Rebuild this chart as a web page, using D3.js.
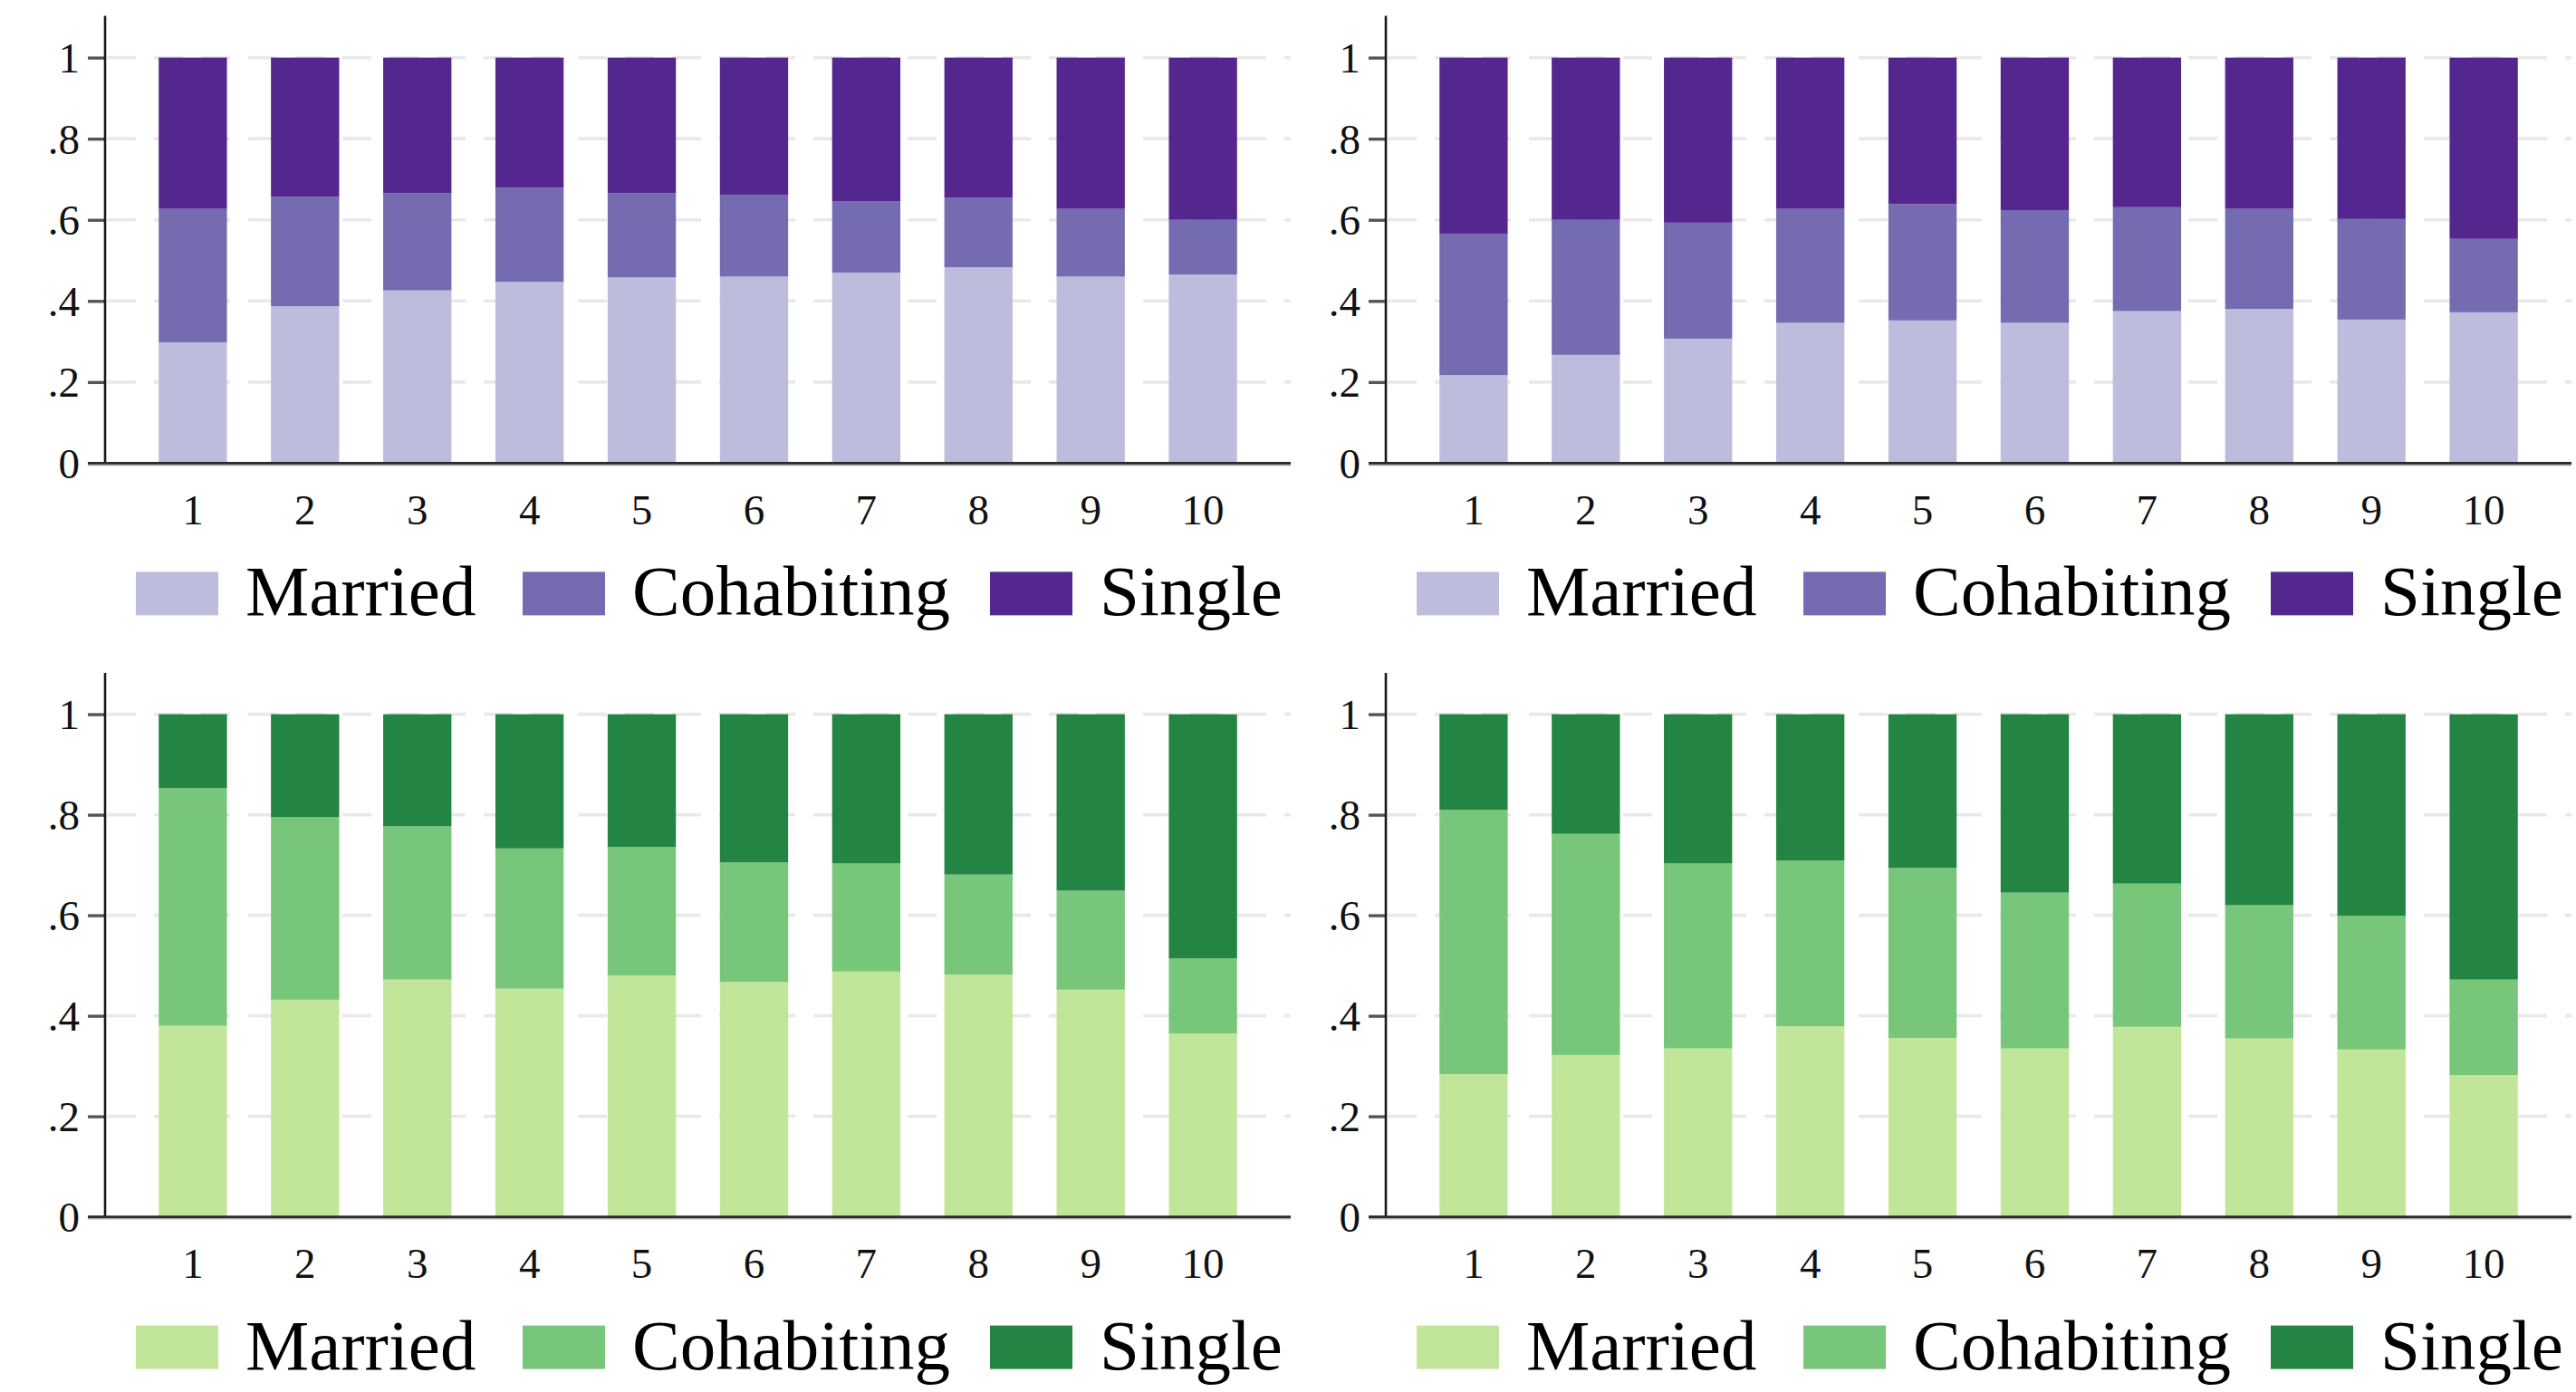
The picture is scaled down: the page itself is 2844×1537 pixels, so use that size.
<!DOCTYPE html>
<html>
<head>
<meta charset="utf-8">
<script src="https://cdn.jsdelivr.net/npm/d3@7"></script>
<style>
  body { margin: 0; background: #fff; }
  svg { display: block; }
  svg text { font-family: "Liberation Serif", "Times New Roman", serif; }
</style>
</head>
<body>
<svg id="chart" width="2844" height="1537"></svg>
<script>
// Groups along the x axis
const groups = ["1", "2", "3", "4", "5", "6", "7", "8", "9", "10"];
const statuses = ["Married", "Cohabiting", "Single"];
const yTicks = [0, 0.2, 0.4, 0.6, 0.8, 1];
const yTickLabels = ["0", ".2", ".4", ".6", ".8", "1"];

// Shares by status, top-left panel
const tlMarried    = [0.298, 0.387, 0.426, 0.447, 0.458, 0.460, 0.470, 0.483, 0.460, 0.465];
const tlCohabiting = [0.329, 0.270, 0.240, 0.232, 0.208, 0.202, 0.175, 0.172, 0.167, 0.135];
const tlSingle     = [0.373, 0.343, 0.334, 0.321, 0.334, 0.338, 0.355, 0.345, 0.373, 0.400];

// Shares by status, top-right panel
const trMarried    = [0.217, 0.267, 0.307, 0.346, 0.352, 0.346, 0.375, 0.380, 0.354, 0.372];
const trCohabiting = [0.348, 0.333, 0.286, 0.281, 0.287, 0.278, 0.256, 0.247, 0.248, 0.181];
const trSingle     = [0.435, 0.400, 0.407, 0.373, 0.361, 0.376, 0.369, 0.373, 0.398, 0.447];

// Shares by status, bottom-left panel
const blMarried    = [0.380, 0.432, 0.472, 0.454, 0.480, 0.467, 0.488, 0.482, 0.452, 0.365];
const blCohabiting = [0.473, 0.363, 0.305, 0.279, 0.256, 0.238, 0.215, 0.199, 0.197, 0.149];
const blSingle     = [0.147, 0.205, 0.223, 0.267, 0.264, 0.295, 0.297, 0.319, 0.351, 0.486];

// Shares by status, bottom-right panel
const brMarried    = [0.284, 0.322, 0.335, 0.379, 0.356, 0.335, 0.378, 0.355, 0.333, 0.282];
const brCohabiting = [0.526, 0.440, 0.368, 0.330, 0.338, 0.310, 0.285, 0.265, 0.266, 0.190];
const brSingle     = [0.190, 0.238, 0.297, 0.291, 0.306, 0.355, 0.337, 0.380, 0.401, 0.528];

const purples = ["#bcbddc", "#756bb1", "#54278f"];
const greens  = ["#c2e699", "#78c679", "#238443"];

const panels = [
  { x: 0,    row: 0, colors: purples, series: [tlMarried, tlCohabiting, tlSingle] },
  { x: 1414, row: 0, colors: purples, series: [trMarried, trCohabiting, trSingle] },
  { x: 0,    row: 1, colors: greens,  series: [blMarried, blCohabiting, blSingle] },
  { x: 1414, row: 1, colors: greens,  series: [brMarried, brCohabiting, brSingle] }
];

// Vertical geometry of each row: baseline, value-1 line, top of axis
const rows = [
  { y0: 511.4,  y1: 63.6,  top: 17.5 },
  { y0: 1343.6, y1: 788.6, top: 743 }
];

const FONT = '"Liberation Serif", "Times New Roman", serif';
const axisLeft = 116, axisRight = 1425;

const svg = d3.select("#chart");

panels.forEach(p => {
  const r = rows[p.row];
  const g = svg.append("g").attr("transform", `translate(${p.x},0)`);

  const x = d3.scaleBand()
    .domain(groups)
    .range([axisLeft, axisRight])
    .paddingInner(0.392)
    .paddingOuter(0.478);

  const y = d3.scaleLinear().domain([0, 1]).range([r.y0, r.y1]);

  const table = groups.map((grp, i) => {
    const row = { group: grp };
    statuses.forEach((s, k) => { row[s] = p.series[k][i]; });
    return row;
  });
  const stacked = d3.stack().keys(statuses)(table);

  // dashed horizontal grid
  g.append("g").selectAll("line")
    .data(yTicks.filter(v => v > 0))
    .join("line")
    .attr("x1", axisLeft + 2).attr("x2", axisRight)
    .attr("y1", d => y(d)).attr("y2", d => y(d))
    .attr("stroke", "#e9e9e9")
    .attr("stroke-width", 3.6)
    .attr("stroke-dasharray", "32 20");

  // stacked bars
  g.append("g").selectAll("g")
    .data(stacked)
    .join("g")
    .attr("fill", (d, k) => p.colors[k])
    .selectAll("rect")
    .data(d => d)
    .join("rect")
    .attr("x", d => x(d.data.group))
    .attr("width", x.bandwidth())
    .attr("y", d => y(d[1]))
    .attr("height", d => y(d[0]) - y(d[1]));

  // y axis
  const yAxis = d3.axisLeft(y)
    .tickValues(yTicks)
    .tickFormat((d, i) => yTickLabels[i])
    .tickSize(19)
    .tickPadding(9);
  const ya = g.append("g").attr("transform", `translate(${axisLeft},0)`).call(yAxis);
  ya.attr("font-family", null).attr("font-size", null);
  ya.select(".domain").remove();
  ya.selectAll(".tick line").attr("stroke", "#555").attr("stroke-width", 3.4);
  ya.selectAll(".tick text")
    .style("font-family", FONT).style("font-size", "47px").attr("fill", "#111")
    .attr("dy", "0.34em");
  g.append("line")
    .attr("x1", axisLeft).attr("x2", axisLeft)
    .attr("y1", r.top).attr("y2", r.y0)
    .attr("stroke", "#1a1a1a").attr("stroke-width", 2.6);

  // x axis
  const xAxis = d3.axisBottom(x).tickSize(0).tickPadding(34);
  const xa = g.append("g").attr("transform", `translate(0,${r.y0})`).call(xAxis);
  xa.attr("font-family", null).attr("font-size", null);
  xa.select(".domain").remove();
  xa.selectAll(".tick text")
    .style("font-family", FONT).style("font-size", "47px").attr("fill", "#111");
  g.append("line")
    .attr("x1", axisLeft - 19).attr("x2", axisRight)
    .attr("y1", r.y0 + 1.5).attr("y2", r.y0 + 1.5)
    .attr("stroke", "#b0b0b0").attr("stroke-width", 3);
  g.append("line")
    .attr("x1", axisLeft - 19).attr("x2", axisRight)
    .attr("y1", r.y0).attr("y2", r.y0)
    .attr("stroke", "#2a2a2a").attr("stroke-width", 2.8);

  // legend
  const legendX = [150, 577, 1093];
  const leg = g.append("g").selectAll("g")
    .data(statuses)
    .join("g")
    .attr("transform", (d, k) => `translate(${legendX[k]},${r.y0 + 120})`);
  leg.append("rect")
    .attr("width", 91).attr("height", 48)
    .attr("fill", (d, k) => p.colors[k]);
  leg.append("text")
    .attr("x", 121).attr("y", 48)
    .style("font-family", FONT).style("font-size", "79px").attr("fill", "#000")
    .text(d => d);
});
</script>
</body>
</html>
